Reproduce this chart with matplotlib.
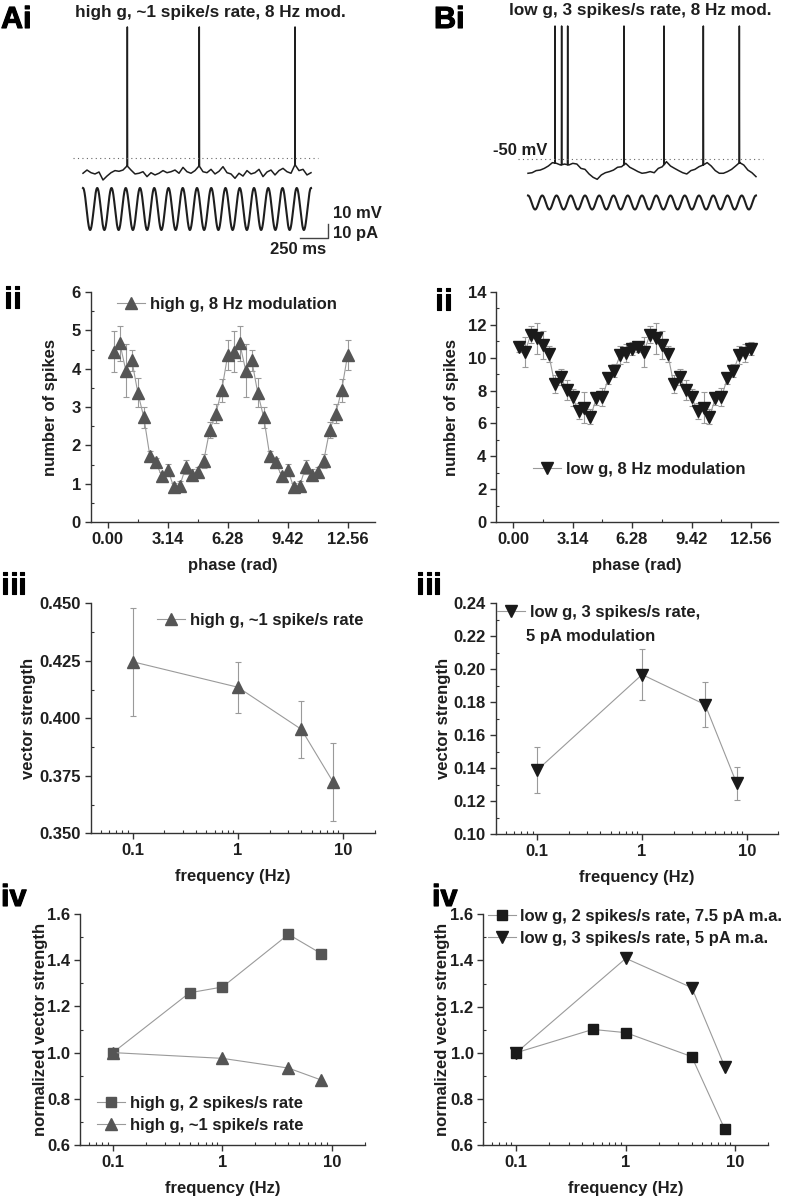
import numpy as np
import matplotlib
matplotlib.use("Agg")
import matplotlib.pyplot as plt
import matplotlib.patheffects as pe
from matplotlib.lines import Line2D
from matplotlib.ticker import MultipleLocator, FixedLocator, LogLocator, NullFormatter

plt.rcParams['font.family'] = ['Liberation Sans', 'DejaVu Sans']
plt.rcParams['font.weight'] = 'bold'
plt.rcParams['axes.labelweight'] = 'bold'
plt.rcParams['font.size'] = 12

INK = '#1e1e1e'
AXIS = '#333333'
LINE = '#9a9a9a'
HIGH_C = '#555555'
LOW_C = '#1a1a1a'

# ---- data -------------------------------------------------------------
# membrane traces (mV), sampled evenly over 2 s, spikes listed separately
trace_A_mv = [-60.9, -58.6, -60.5, -61.4, -60.0, -65.7, -62.9, -60.5, -59.0, -59.5,
              -58.6, -55.7, -58.6, -61.4, -60.9, -59.8, -63.3, -60.5, -62.1, -60.9,
              -59.0, -60.5, -59.8, -58.6, -60.9, -56.7, -59.8, -60.9, -59.0, -55.7,
              -59.8, -60.5, -58.1, -61.4, -59.5, -56.2, -60.5, -61.4, -64.5, -60.9,
              -62.9, -59.0, -61.4, -60.5, -58.1, -63.3, -60.0, -58.6, -62.1, -59.0,
              -57.4, -59.8, -60.9, -55.0, -59.0, -58.1, -62.1, -60.5]
spikes_A_ms = [389, 1020, 1860]
spike_peak_A = 43.6

trace_B_mv = [-60.2, -59.8, -58.3, -57.9, -56.7, -55.0, -52.6, -53.1, -54.3, -53.6,
              -54.3, -53.1, -53.6, -56.7, -57.4, -60.7, -63.1, -64.5, -61.4, -59.8,
              -59.0, -57.9, -55.9, -55.5, -53.1, -55.9, -57.4, -59.0, -60.2, -59.8,
              -59.0, -59.8, -56.7, -55.5, -51.9, -55.0, -56.7, -58.3, -59.8, -60.7,
              -58.3, -57.4, -55.5, -54.3, -52.6, -55.0, -58.3, -60.2, -60.2, -59.0,
              -57.4, -55.0, -52.6, -54.3, -57.9, -59.8, -62.6]
spikes_B_ms = [237, 295, 348, 842, 1193, 1538, 1854]
spike_peak_B = 45.0

stim_freq_hz = 8.0
stim_amp_A_pA = 15.0
stim_amp_B_pA = 5.0
duration_ms = 2000.0

# spikes per phase bin (one cycle, plotted twice)
high_g_spikes = [4.44, 4.66, 3.95, 4.22, 3.37, 2.73, 1.73, 1.56, 1.19, 1.36,
                 0.91, 0.95, 1.43, 1.23, 1.30, 1.60, 2.40, 2.82, 3.44, 4.36]
high_g_err = [0.53, 0.45, 0.70, 0.28, 0.38, 0.27, 0.12, 0.10, 0.12, 0.15,
              0.10, 0.12, 0.18, 0.15, 0.13, 0.18, 0.22, 0.25, 0.30, 0.40]
low_g_spikes = [10.66, 10.36, 11.41, 11.17, 10.76, 10.22, 8.40, 8.84, 8.03, 7.59,
                6.76, 6.96, 6.41, 7.53, 7.59, 8.74, 9.20, 10.16, 10.26, 10.56]
low_g_err = [0.30, 0.90, 0.50, 0.95, 0.85, 0.50, 0.55, 0.50, 0.60, 0.50,
             0.50, 0.95, 0.45, 0.40, 0.55, 0.35, 0.40, 0.55, 0.55, 0.40]
phase_ticks = [0.00, 3.14, 6.28, 9.42, 12.56]
phase_tick_labels = ['0.00', '3.14', '6.28', '9.42', '12.56']

# vector strength vs frequency
freq_vs = [0.1, 1, 4, 8]
vs_high = [0.4246, 0.4135, 0.3952, 0.3723]
vs_high_err = [0.0234, 0.0110, 0.0125, 0.0170]
vs_low = [0.139, 0.1968, 0.1786, 0.1309]
vs_low_err = [0.0142, 0.0157, 0.0137, 0.0100]

# normalized vector strength
freq_sq = [0.1, 0.5, 1, 4, 8]
freq_tri = [0.1, 1, 4, 8]
nvs_high_2 = [1.0, 1.259, 1.284, 1.512, 1.428]
nvs_high_1 = [1.0, 0.975, 0.933, 0.881]
nvs_low_2 = [1.0, 1.101, 1.087, 0.983, 0.669]
nvs_low_3 = [1.0, 1.409, 1.282, 0.94]

W, H = 793, 1199
fig = plt.figure(figsize=(W / 100, H / 100), dpi=100)


def box(x0, x1, ytop, ybot):
    return [x0 / W, 1 - ybot / H, (x1 - x0) / W, (ybot - ytop) / H]


def fpos(x, y):
    return x / W, 1 - y / H


def style_axes(ax):
    for s in ('top', 'right'):
        ax.spines[s].set_visible(False)
    for s in ('left', 'bottom'):
        ax.spines[s].set_color(AXIS)
        ax.spines[s].set_linewidth(1.0)
    ax.tick_params(which='major', direction='out', length=4, width=1,
                   colors=AXIS, labelcolor=INK, labelsize=12, pad=3)
    ax.tick_params(which='minor', direction='in', length=2.5, width=0.8, colors=AXIS)


def legend(ax, handles, labels, x, ytop, spacing=0.3):
    ax.legend(handles, labels, loc='upper left', bbox_to_anchor=fpos(x, ytop),
              bbox_transform=fig.transFigure, frameon=False, borderpad=0,
              borderaxespad=0, handlelength=1.7, handletextpad=0.25,
              labelspacing=spacing, fontsize=12, labelcolor=INK)


def handle(marker, color, ms):
    return Line2D([], [], color=LINE, lw=0.8, marker=marker, mfc=color, mec=color, ms=ms)


def trace_panel(rect, t0_px, dot_px, trace, spikes, peak, amp, stim_center_px, dot_span):
    ax = fig.add_axes(box(*rect))
    ax.set_axis_off()
    px_ms = 228 / duration_ms
    ax.set_xlim((rect[0] - t0_px) / px_ms, (rect[1] - t0_px) / px_ms)
    ax.set_ylim(-50 - (rect[3] - dot_px) / 1.4, -50 + (dot_px - rect[2]) / 1.4)
    t = np.linspace(0, duration_ms, len(trace))
    v = np.array(trace)
    tt, vv = list(t), list(v)
    for s in spikes:
        base = np.interp(s, t, v)
        tt += [s - 2, s, s + 2]
        vv += [base, peak, base]
    order = np.argsort(tt, kind='stable')
    ax.plot(np.array(tt)[order], np.array(vv)[order], color=INK, lw=1.1)
    ax.plot(dot_span, [-50, -50], color='#666666', lw=0.8, ls=(0, (1, 3)))
    ts = np.linspace(0, duration_ms, 1600)
    off = -50 - (stim_center_px - dot_px) / 1.4
    ax.plot(ts, off + amp * np.cos(2 * np.pi * stim_freq_hz * ts / 1000.0), color=INK, lw=1.5)
    return ax


# ---- Ai / Bi traces ----------------------------------------------------
axA = trace_panel((60, 395, 20, 262), 83, 158, trace_A_mv, spikes_A_ms, spike_peak_A,
                  stim_amp_A_pA, 209, [-88, 2061])
sb_y = -107.1
axA.plot([1903, 2153, 2153], [sb_y, sb_y, sb_y + 10], color='#444444', lw=1.0)
axA.text(2193, -89.3, '10 mV', ha='left', va='center', fontsize=12, color=INK)
axA.text(2193, -103.6, '10 pA', ha='left', va='center', fontsize=12, color=INK)
axA.text(1886, -115.7, '250 ms', ha='center', va='center', fontsize=12, color=INK)

axB = trace_panel((440, 790, 20, 262), 528, 159, trace_B_mv, spikes_B_ms, spike_peak_B,
                  stim_amp_B_pA, 202.5, [-88, 2061])
axB.text(167, -43.6, '-50 mV', ha='right', va='center', fontsize=12, color=INK)

fig.text(*fpos(210, 13), 'high g, ~1 spike/s rate, 8 Hz mod.', ha='center', va='center',
         fontsize=12.3, color=INK)
fig.text(*fpos(640, 11), 'low g, 3 spikes/s rate, 8 Hz mod.', ha='center', va='center',
         fontsize=12.3, color=INK)

# ---- ii: spikes vs phase ----------------------------------------------
phase = np.arange(1, 41) * np.pi / 10


def phase_panel(rect, vals, errs, marker, color, ymax, ystep, label, lx, ly, ylab_x):
    ax = fig.add_axes(box(*rect))
    style_axes(ax)
    y = np.tile(vals, 2)
    e = np.tile(errs, 2)
    ax.errorbar(phase, y, yerr=e, fmt='none', ecolor=LINE, elinewidth=0.8, capsize=2, capthick=0.8)
    ax.plot(phase, y, color=LINE, lw=0.8, marker=marker, mfc=color, mec=color, ms=8)
    ax.set_xlim(-0.9, 14.0)
    ax.set_ylim(0, ymax)
    ax.set_xticks(phase_ticks)
    ax.set_xticklabels(phase_tick_labels)
    ax.xaxis.set_minor_locator(FixedLocator([1.57, 4.71, 7.85, 10.99]))
    ax.yaxis.set_major_locator(MultipleLocator(ystep))
    ax.yaxis.set_minor_locator(MultipleLocator(ystep / 2))
    ax.set_xlabel('phase (rad)', fontsize=12, color=INK)
    ax.set_ylabel('number of spikes', fontsize=12, color=INK)
    ax.xaxis.set_label_coords(0.5, -0.157)
    ax.yaxis.set_label_coords(ylab_x, 0.5)
    legend(ax, [handle(marker, color, 8)], [label], lx, ly)
    return ax


phase_panel((90.7, 375, 292, 522), high_g_spikes, high_g_err, '^', HIGH_C, 6, 1,
            'high g, 8 Hz modulation', 117, 297, -0.115)
phase_panel((496, 778.3, 292, 522), low_g_spikes, low_g_err, 'v', LOW_C, 14, 2,
            'low g, 8 Hz modulation', 533, 462, -0.131)


# ---- iii / iv: frequency panels ---------------------------------------
def freq_axes(rect, xmin, ylim, ystep, ylabel, ylab_x):
    ax = fig.add_axes(box(*rect))
    style_axes(ax)
    ax.set_xscale('log')
    ax.set_xlim(xmin, 20)
    ax.set_ylim(*ylim)
    ax.set_xticks([0.1, 1, 10])
    ax.set_xticklabels(['0.1', '1', '10'])
    ax.xaxis.set_minor_locator(LogLocator(base=10, subs=np.arange(2, 10)))
    ax.xaxis.set_minor_formatter(NullFormatter())
    ax.yaxis.set_major_locator(MultipleLocator(ystep))
    ax.yaxis.set_minor_locator(MultipleLocator(ystep / 2))
    ax.set_xlabel('frequency (Hz)', fontsize=12, color=INK)
    ax.set_ylabel(ylabel, fontsize=12, color=INK)
    ax.xaxis.set_label_coords(0.5, -0.155)
    ax.yaxis.set_label_coords(ylab_x, 0.5)
    return ax


ax3a = freq_axes((90.7, 375, 603.3, 833.3), 0.04, (0.35, 0.45), 0.025, 'vector strength', -0.192)
ax3a.errorbar(freq_vs, vs_high, yerr=vs_high_err, fmt='none', ecolor=LINE, elinewidth=0.8,
              capsize=2, capthick=0.8)
ax3a.plot(freq_vs, vs_high, color=LINE, lw=0.8, marker='^', mfc=HIGH_C, mec=HIGH_C, ms=9)
ax3a.yaxis.set_major_formatter(plt.FormatStrFormatter('%.3f'))
legend(ax3a, [handle('^', HIGH_C, 8)], ['high g, ~1 spike/s rate'], 157, 613)

ax3b = freq_axes((495.7, 778.3, 603.3, 834.3), 0.04, (0.10, 0.24), 0.02, 'vector strength', -0.158)
ax3b.errorbar(freq_vs, vs_low, yerr=vs_low_err, fmt='none', ecolor=LINE, elinewidth=0.8,
              capsize=2, capthick=0.8)
ax3b.plot(freq_vs, vs_low, color=LINE, lw=0.8, marker='v', mfc=LOW_C, mec=LOW_C, ms=9)
ax3b.yaxis.set_major_formatter(plt.FormatStrFormatter('%.2f'))
legend(ax3b, [handle('v', LOW_C, 8)], ['low g, 3 spikes/s rate,'], 497, 605)
fig.text(*fpos(526, 636), '5 pA modulation', ha='left', va='center', fontsize=12, color=INK)

ax4a = freq_axes((80, 365, 914, 1145), 0.05, (0.6, 1.6), 0.2, 'normalized vector strength', -0.112)
ax4a.plot(freq_sq, nvs_high_2, color=LINE, lw=0.8, marker='s', mfc=HIGH_C, mec=HIGH_C, ms=7)
ax4a.plot(freq_tri, nvs_high_1, color=LINE, lw=0.8, marker='^', mfc=HIGH_C, mec=HIGH_C, ms=8)
ax4a.yaxis.set_major_formatter(plt.FormatStrFormatter('%.1f'))
legend(ax4a, [handle('s', HIGH_C, 7), handle('^', HIGH_C, 8)],
       ['high g, 2 spikes/s rate', 'high g, ~1 spike/s rate'], 97, 1096, spacing=0.4)

ax4b = freq_axes((483.3, 768.3, 914.3, 1145), 0.05, (0.6, 1.6), 0.2, 'normalized vector strength', -0.117)
ax4b.plot(freq_sq, nvs_low_2, color=LINE, lw=0.8, marker='s', mfc=LOW_C, mec=LOW_C, ms=7)
ax4b.plot(freq_tri, nvs_low_3, color=LINE, lw=0.8, marker='v', mfc=LOW_C, mec=LOW_C, ms=8)
ax4b.yaxis.set_major_formatter(plt.FormatStrFormatter('%.1f'))
legend(ax4b, [handle('s', LOW_C, 7), handle('v', LOW_C, 8)],
       ['low g, 2 spikes/s rate, 7.5 pA m.a.', 'low g, 3 spikes/s rate, 5 pA m.a.'], 488, 909,
       spacing=0.4)

# ---- panel letters -----------------------------------------------------
thick = [pe.withStroke(linewidth=0.8, foreground='black')]
for txt, x, y in [('Ai', 1, 5), ('Bi', 434, 5), ('ii', 4, 285), ('ii', 435, 287),
                  ('iii', 1, 571), ('iii', 416, 571), ('iv', 1, 883), ('iv', 432, 883)]:
    fig.text(*fpos(x, y), txt, ha='left', va='top', fontsize=22, fontweight='bold',
             color='black', path_effects=thick)

fig.savefig('out.png', dpi=100)
